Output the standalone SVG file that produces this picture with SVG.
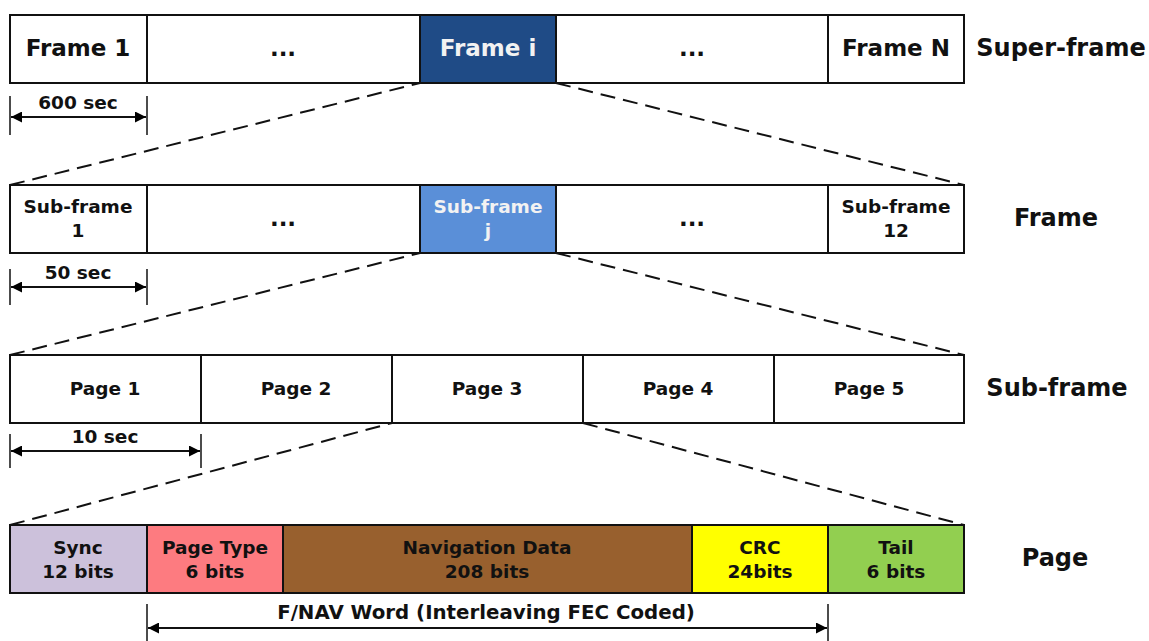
<svg xmlns="http://www.w3.org/2000/svg" width="1149" height="641" viewBox="0 0 1149 641">
<defs>
<marker id="ah" viewBox="0 0 10 10" refX="10" refY="5" markerWidth="12" markerHeight="11" markerUnits="userSpaceOnUse" orient="auto-start-reverse">
<path d="M0,0 L10,5 L0,10 z" fill="#000"/>
</marker>
<style>
.box{stroke:#111;stroke-width:2;}
.t{font-family:"DejaVu Sans",Verdana,sans-serif;font-weight:bold;fill:#111;text-anchor:middle;}
.big{font-size:23px;}
.mid{font-size:18.5px;}
.fnav{font-size:19.8px;}
.lab{font-size:24px;}
.dash{stroke:#111;stroke-width:2;stroke-dasharray:15,8;fill:none;}
.tick{stroke:#111;stroke-width:1.5;}
.dim{stroke:#111;stroke-width:2;fill:none;}
</style>
</defs>
<rect width="1149" height="641" fill="#fff"/>

<g id="connectors">
<line class="dash" x1="10" y1="185" x2="420" y2="83"/>
<line class="dash" x1="556" y1="83" x2="964" y2="185"/>
<line class="dash" x1="10" y1="355" x2="420" y2="253"/>
<line class="dash" x1="556" y1="253" x2="964" y2="355"/>
<line class="dash" x1="10" y1="525" x2="392" y2="423"/>
<line class="dash" x1="583" y1="423" x2="964" y2="525"/>
</g>

<g id="superframe">
<rect class="box" x="10" y="15" width="137" height="68" fill="#fff"/>
<rect class="box" x="147" y="15" width="273" height="68" fill="#fff"/>
<rect class="box" x="420" y="15" width="136" height="68" fill="#1f4b86"/>
<rect class="box" x="556" y="15" width="272" height="68" fill="#fff"/>
<rect class="box" x="828" y="15" width="136" height="68" fill="#fff"/>
<text class="t big" x="78" y="56">Frame 1</text>
<text class="t big" x="283" y="56">...</text>
<text class="t big" x="488" y="56" style="fill:#f2f2f2">Frame i</text>
<text class="t big" x="692" y="56">...</text>
<text class="t big" x="896" y="56">Frame N</text>
<text class="t lab" x="1061" y="56">Super-frame</text>
</g>

<g id="frame">
<rect class="box" x="10" y="185" width="137" height="68" fill="#fff"/>
<rect class="box" x="147" y="185" width="273" height="68" fill="#fff"/>
<rect class="box" x="420" y="185" width="136" height="68" fill="#5a8fd8"/>
<rect class="box" x="556" y="185" width="272" height="68" fill="#fff"/>
<rect class="box" x="828" y="185" width="136" height="68" fill="#fff"/>
<text class="t mid" x="78" y="213">Sub-frame</text>
<text class="t mid" x="78" y="237">1</text>
<text class="t big" x="283" y="226">...</text>
<text class="t mid" x="488" y="213" style="fill:#f2f2f2">Sub-frame</text>
<text class="t mid" x="488" y="237" style="fill:#f2f2f2">j</text>
<text class="t big" x="692" y="226">...</text>
<text class="t mid" x="896" y="213">Sub-frame</text>
<text class="t mid" x="896" y="237">12</text>
<text class="t lab" x="1056" y="226">Frame</text>
</g>

<g id="subframe">
<rect class="box" x="10" y="355" width="191" height="68" fill="#fff"/>
<rect class="box" x="201" y="355" width="191" height="68" fill="#fff"/>
<rect class="box" x="392" y="355" width="191" height="68" fill="#fff"/>
<rect class="box" x="583" y="355" width="191" height="68" fill="#fff"/>
<rect class="box" x="774" y="355" width="190" height="68" fill="#fff"/>
<text class="t mid" x="105" y="395">Page 1</text>
<text class="t mid" x="296" y="395">Page 2</text>
<text class="t mid" x="487" y="395">Page 3</text>
<text class="t mid" x="678" y="395">Page 4</text>
<text class="t mid" x="869" y="395">Page 5</text>
<text class="t lab" x="1057" y="396">Sub-frame</text>
</g>

<g id="page">
<rect class="box" x="10" y="525" width="137" height="68" fill="#ccc1db"/>
<rect class="box" x="147" y="525" width="136" height="68" fill="#fd7b80"/>
<rect class="box" x="283" y="525" width="409" height="68" fill="#98602e"/>
<rect class="box" x="692" y="525" width="136" height="68" fill="#ffff00"/>
<rect class="box" x="828" y="525" width="136" height="68" fill="#92cf50"/>
<text class="t mid" x="78" y="554">Sync</text>
<text class="t mid" x="78" y="578">12 bits</text>
<text class="t mid" x="215" y="554">Page Type</text>
<text class="t mid" x="215" y="578">6 bits</text>
<text class="t mid" x="487" y="554">Navigation Data</text>
<text class="t mid" x="487" y="578">208 bits</text>
<text class="t mid" x="760" y="554">CRC</text>
<text class="t mid" x="760" y="578">24bits</text>
<text class="t mid" x="896" y="554">Tail</text>
<text class="t mid" x="896" y="578">6 bits</text>
<text class="t lab" x="1055" y="566">Page</text>
</g>

<g id="dim-600">
<line class="tick" x1="10" y1="96" x2="10" y2="135"/>
<line class="tick" x1="147" y1="96" x2="147" y2="135"/>
<line class="dim" x1="11" y1="117" x2="146" y2="117" marker-start="url(#ah)" marker-end="url(#ah)"/>
<text class="t mid" x="78" y="109">600 sec</text>
</g>
<g id="dim-50">
<line class="tick" x1="10" y1="269" x2="10" y2="305"/>
<line class="tick" x1="147" y1="269" x2="147" y2="305"/>
<line class="dim" x1="11" y1="287" x2="146" y2="287" marker-start="url(#ah)" marker-end="url(#ah)"/>
<text class="t mid" x="78" y="279">50 sec</text>
</g>
<g id="dim-10">
<line class="tick" x1="10" y1="434" x2="10" y2="468"/>
<line class="tick" x1="201" y1="434" x2="201" y2="468"/>
<line class="dim" x1="11" y1="451" x2="200" y2="451" marker-start="url(#ah)" marker-end="url(#ah)"/>
<text class="t mid" x="105" y="443">10 sec</text>
</g>
<g id="dim-fnav">
<line class="tick" x1="147" y1="604" x2="147" y2="641"/>
<line class="tick" x1="828" y1="604" x2="828" y2="641"/>
<line class="dim" x1="148" y1="628" x2="827" y2="628" marker-start="url(#ah)" marker-end="url(#ah)"/>
<text class="t fnav" x="486" y="619">F/NAV Word (Interleaving FEC Coded)</text>
</g>
</svg>
